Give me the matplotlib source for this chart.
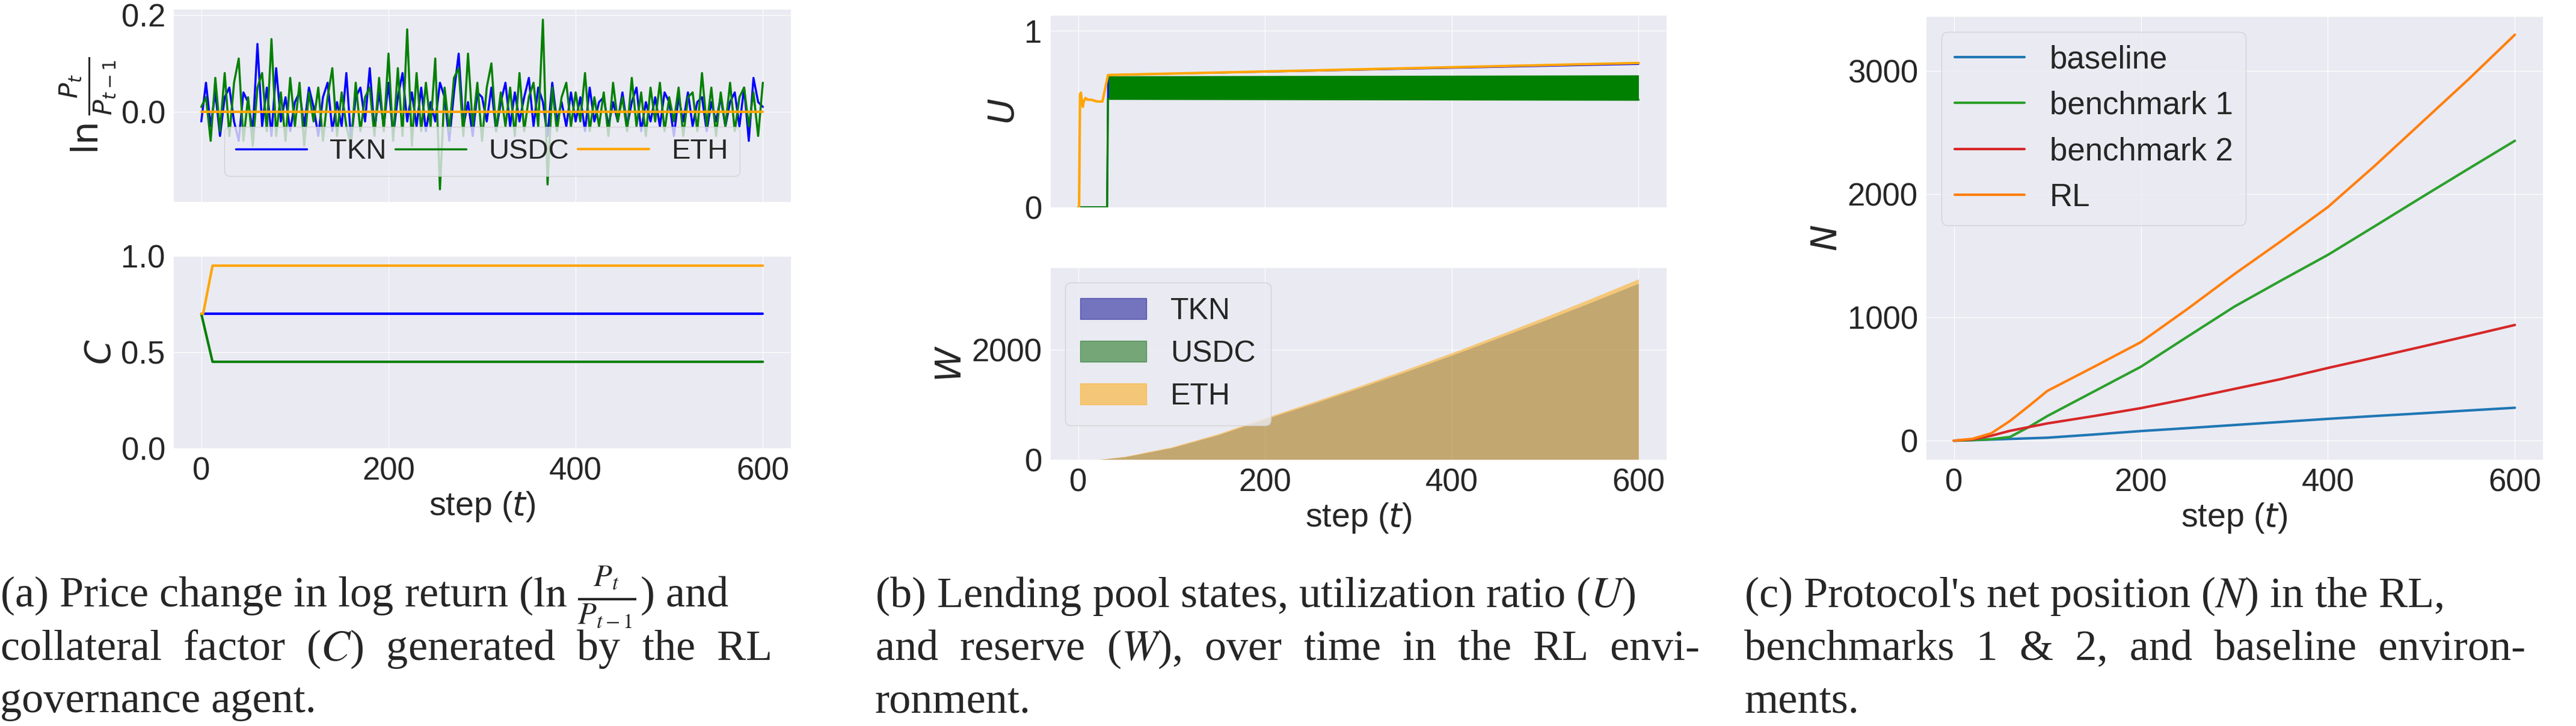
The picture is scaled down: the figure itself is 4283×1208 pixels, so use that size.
import numpy as np
import matplotlib
matplotlib.use("Agg")
import matplotlib.pyplot as plt
import matplotlib.patches as mpatches
import seaborn as sns

# ---------------- data ----------------
t_noise = list(range(0, 601, 5))
tkn_ret = [-0.02, 0.06, -0.03, 0.04, -0.05, 0.03, 0.05, -0.02, -0.06, 0.04, 0.02, -0.04, 0.14, -0.03,
           0.05, -0.05, 0.09, -0.02, 0.03, -0.04, 0.02, 0.04, -0.03, 0.05, 0.01, -0.05, 0.03, 0.06,
           -0.04, 0.02, -0.03, 0.08, -0.06, 0.03, 0.05, -0.02, 0.09, -0.04, 0.04, -0.03, 0.06, -0.05,
           0.03, 0.08, -0.02, 0.04, -0.03, 0.05, -0.04, 0.02, -0.02, 0.06, 0.03, -0.06, 0.04, 0.12,
           -0.03, 0.02, -0.05, 0.04, 0.03, -0.02, 0.05, -0.04, 0.02, 0.06, -0.03, 0.04, -0.02, 0.03,
           0.07, -0.03, 0.05, 0.02, -0.05, 0.06, -0.02, 0.02, -0.03, 0.04, -0.02, 0.03, -0.04, 0.05,
           -0.02, 0.02, 0.03, -0.03, 0.02, -0.02, 0.04, -0.03, 0.02, 0.05, -0.04, 0.02, -0.02, 0.03,
           -0.03, 0.04, 0.02, -0.05, 0.03, -0.02, 0.04, -0.03, 0.02, 0.03, -0.04, 0.02, -0.02, 0.03,
           -0.03, 0.02, 0.04, -0.03, 0.05, -0.06, 0.07, 0.02, 0.01]
usdc_ret = [0.01, 0.03, -0.06, 0.07, -0.04, 0.08, -0.05, 0.06, 0.11, -0.06, 0.03, -0.07, 0.05, 0.08,
            -0.04, 0.15, -0.05, 0.04, -0.06, 0.07, -0.03, 0.06, -0.07, 0.04, -0.02, 0.05, -0.06, 0.03,
            0.09, -0.05, 0.04, -0.03, -0.07, 0.06, -0.04, 0.03, 0.05, -0.05, 0.07, -0.04, 0.12, -0.06,
            0.09, -0.05, 0.17, -0.07, 0.08, -0.04, 0.06, -0.03, 0.11, -0.16, 0.05, -0.04, 0.07, 0.09,
            -0.05, 0.12, -0.03, 0.06, -0.06, 0.05, 0.10, -0.04, 0.04, -0.03, 0.05, -0.05, 0.08, -0.04,
            0.03, 0.06, -0.03, 0.19, -0.15, 0.05, -0.04, 0.03, 0.06, -0.03, 0.04, -0.02, 0.08, -0.04,
            0.03, -0.03, 0.04, -0.05, 0.06, -0.02, 0.03, -0.04, 0.07, -0.03, 0.04, -0.05, 0.05, -0.02,
            0.06, -0.04, 0.03, -0.02, 0.05, -0.05, 0.03, 0.04, -0.04, 0.08, -0.03, 0.05, -0.05, 0.04,
            -0.03, 0.06, -0.04, 0.03, 0.05, -0.03, 0.04, -0.05, 0.06]
eth_ret_t = [0, 600]
eth_ret = [0.0, 0.0]

c_t = [0, 12, 600]
c_tkn = [0.7, 0.7, 0.7]
c_usdc = [0.7, 0.45, 0.45]
c_eth_t = [0, 2, 12, 600]
c_eth = [0.7, 0.7, 0.95, 0.95]

u_eth_t = [0, 1, 2, 3, 4, 5, 6, 8, 10, 14, 20, 26, 32, 100, 200, 300, 400, 500, 600]
u_eth = [0.0, 0.0, 0.64, 0.65, 0.6, 0.57, 0.6, 0.62, 0.61, 0.61, 0.6, 0.6, 0.75, 0.758, 0.77, 0.782, 0.794, 0.806, 0.818]
u_tkn_t = [0, 31, 32, 600]
u_tkn = [0.0, 0.0, 0.75, 0.812]
u_usdc_t = [0, 31, 32, 600]
u_usdc_hi = [0.0, 0.0, 0.745, 0.75]
u_usdc_lo = [0.0, 0.0, 0.615, 0.61]

w_t = [0, 20, 50, 100, 150, 200, 250, 300, 350, 400, 450, 500, 550, 600]
w_eth = [0, 0, 60, 230, 470, 760, 1040, 1330, 1630, 1940, 2260, 2590, 2930, 3280]
w_tkn = [0, 0, 50, 215, 450, 735, 1010, 1295, 1590, 1895, 2210, 2530, 2860, 3200]
w_usdc = [0, 0, 50, 215, 450, 735, 1010, 1295, 1590, 1895, 2210, 2530, 2860, 3200]

n_t = [0, 20, 40, 60, 80, 100, 150, 200, 250, 300, 350, 400, 450, 500, 550, 600]
n_baseline = [0, 4, 9, 14, 19, 24, 50, 78, 102, 127, 152, 177, 200, 222, 245, 267]
n_bm1 = [0, 5, 12, 30, 110, 200, 400, 600, 845, 1088, 1300, 1508, 1740, 1974, 2205, 2434]
n_bm2 = [0, 10, 40, 80, 110, 140, 200, 264, 340, 420, 500, 590, 675, 762, 850, 939]
n_rl = [0, 15, 60, 160, 280, 404, 600, 800, 1070, 1352, 1620, 1896, 2230, 2580, 2930, 3295]

# ---------------- style ----------------
sns.set_style("darkgrid")
plt.rcParams['font.family'] = ['Liberation Sans Narrow', 'Liberation Sans', 'DejaVu Sans']
plt.rcParams['mathtext.fontset'] = 'dejavusans'
FS = 38
W, H = 4283, 1208
fig = plt.figure(figsize=(W / 100, H / 100), dpi=100)


def ax_px(x0, y0, x1, y1):
    return fig.add_axes([x0 / W, 1 - y1 / H, (x1 - x0) / W, (y1 - y0) / H])


def style(ax):
    ax.tick_params(labelsize=FS, pad=6)
    ax.set_xlim(-30, 630)
    ax.set_xticks([0, 200, 400, 600])


# (a) top
a1 = ax_px(288, 15, 1315, 336)
a1.plot(t_noise, tkn_ret, color='blue', lw=2.5, label='TKN')
a1.plot(t_noise, usdc_ret, color='green', lw=2.5, label='USDC')
a1.plot(eth_ret_t, eth_ret, color='orange', lw=3, label='ETH')
style(a1)
a1.set_ylim(-0.186, 0.212)
a1.set_yticks([0.0, 0.2])
a1.set_yticklabels(['0.0', '0.2'])
a1.set_xticklabels([])
a1.set_ylabel(r'$\ln\frac{P_t}{P_{t-1}}$', fontsize=FS + 6)
a1.legend(loc='lower center', ncol=3, fontsize=FS - 4, mode='expand',
          bbox_to_anchor=(0.06, 0.06, 0.88, 0.2), handlelength=2.5)

# (a) bottom
a2 = ax_px(288, 426, 1315, 746)
a2.plot(c_t, c_tkn, color='blue', lw=3)
a2.plot(c_t, c_usdc, color='green', lw=3)
a2.plot(c_eth_t, c_eth, color='orange', lw=3)
style(a2)
a2.set_ylim(0, 1.0)
a2.set_yticks([0.0, 0.5, 1.0])
a2.set_ylabel('$C$', fontsize=FS + 4)
a2.set_xlabel('step ($t$)', fontsize=FS + 2)

# (b) top
b1 = ax_px(1746, 25, 2771, 345)
b1.plot(u_tkn_t, u_tkn, color='blue', lw=2)
b1.fill_between(u_usdc_t, u_usdc_lo, u_usdc_hi, color='green', lw=0)
b1.plot(u_usdc_t, u_usdc_lo, color='green', lw=2.5)
b1.plot(u_eth_t, u_eth, color='orange', lw=3)
style(b1)
b1.set_ylim(0, 1.09)
b1.set_yticks([0, 1])
b1.set_xticklabels([])
b1.set_ylabel('$U$', fontsize=FS + 4)

# (b) bottom
b2 = ax_px(1746, 445, 2771, 765)
b2.fill_between(w_t, 0, w_eth, color='orange', alpha=0.5, lw=0)
b2.fill_between(w_t, 0, w_tkn, color='darkblue', alpha=0.13, lw=0)
b2.fill_between(w_t, 0, w_usdc, color='darkgreen', alpha=0.08, lw=0)
style(b2)
b2.set_ylim(0, 3490)
b2.set_yticks([0, 2000])
b2.set_ylabel('$W$', fontsize=FS + 4)
b2.set_xlabel('step ($t$)', fontsize=FS + 2)
handles = [mpatches.Patch(color='darkblue', alpha=0.5, label='TKN'),
           mpatches.Patch(color='darkgreen', alpha=0.5, label='USDC'),
           mpatches.Patch(color='orange', alpha=0.5, label='ETH')]
b2.legend(handles=handles, loc='upper left', fontsize=FS - 2, handlelength=2.2, borderpad=0.5)

# (c)
c1 = ax_px(3202, 27, 4228, 765)
c1.plot(n_t, n_baseline, color='tab:blue', lw=3, label='baseline')
c1.plot(n_t, n_bm1, color='tab:green', lw=3, label='benchmark 1')
c1.plot(n_t, n_bm2, color='tab:red', lw=3, label='benchmark 2')
c1.plot(n_t, n_rl, color='tab:orange', lw=3, label='RL')
style(c1)
c1.set_ylim(-155, 3445)
c1.set_yticks([0, 1000, 2000, 3000])
c1.set_ylabel('$N$', fontsize=FS + 4)
c1.set_xlabel('step ($t$)', fontsize=FS + 2)
c1.legend(loc='upper left', fontsize=FS, handlelength=2.2)

# captions
cap = dict(fontsize=52, family=['Liberation Serif', 'DejaVu Serif'], va='baseline', ha='left')
plt.rcParams['mathtext.fontset'] = 'stix'
lines_a = [r'(a) Price change in log return ($\ln\,\frac{P_t}{P_{t-1}}$) and',
           r'collateral  factor  ($C$)  generated  by  the  RL',
           'governance agent.']
lines_b = [r'(b) Lending pool states, utilization ratio ($U$)',
           r'and  reserve  ($W$),  over  time  in  the  RL  envi-',
           'ronment.']
lines_c = [r"(c) Protocol's net position ($N$) in the RL,",
           r'benchmarks  1  &  2,  and  baseline  environ-',
           'ments.']
ys = [1010, 1098, 1185]
for x0, lines in [(0, lines_a), (1455, lines_b), (2900, lines_c)]:
    for y, s in zip(ys, lines):
        fig.text(x0 / W, 1 - y / H, s, **cap)

fig.savefig('out.png', dpi=100)
